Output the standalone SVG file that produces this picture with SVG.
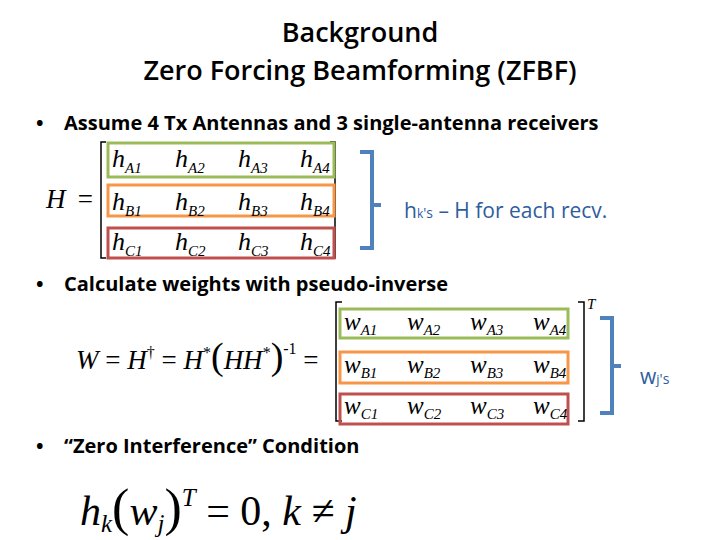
<svg xmlns="http://www.w3.org/2000/svg" width="720" height="540" viewBox="0 0 720 540">
<style>
.t{font-family:"Open Sans","Liberation Sans",sans-serif;fill:#000}
.b{font-family:"Open Sans","Liberation Sans",sans-serif;font-size:20px;font-weight:bold}
.m{font-family:"Liberation Serif",serif;font-style:italic;fill:#000}
.g{fill:none;stroke:#9bbb59;stroke-width:3}
.o{fill:none;stroke:#f79646;stroke-width:3}
.r{fill:none;stroke:#c0504d;stroke-width:3}
.br{fill:none;stroke:#000;stroke-width:1.5}
.bl{fill:none;stroke:#4f81bd;stroke-width:4}
.lb{font-family:"Open Sans","Liberation Sans",sans-serif;fill:#2e5d9e;font-size:21px}
</style>
<rect width="720" height="540" fill="#fff"/>
<g id="title">
<text class="t" x="360" y="42" font-size="27" font-weight="600" text-anchor="middle">Background</text>
<text class="t" x="360" y="80" font-size="27" font-weight="600" text-anchor="middle">Zero Forcing Beamforming (ZFBF)</text>
</g>
<g id="bullets">
<text class="b" x="36" y="130">•</text><text class="b" x="64" y="130">Assume 4 Tx Antennas and 3 single-antenna receivers</text>
<text class="b" x="36" y="291">•</text><text class="b" x="64" y="291">Calculate weights with pseudo-inverse</text>
<text class="b" x="36" y="453">•</text><text class="b" x="64" y="453" font-weight="600">“Zero Interference” Condition</text>
</g>
<g id="matrixH">
<text class="m" x="46" y="208" font-size="27">H</text><text class="m" x="76" y="208" font-size="27" font-style="normal">=</text>
<path class="br" d="M106,142 H101 V258 H106 M330,142 H335 V258 H330"/>
<rect class="g" x="108" y="143" width="226" height="34"/>
<rect class="o" x="108" y="185" width="226" height="31"/>
<rect class="r" x="108" y="228" width="226" height="30"/>
<g class="m" font-size="26">
<text x="112" y="167">h<tspan font-size="15" dy="6">A1</tspan></text>
<text x="175" y="167">h<tspan font-size="15" dy="6">A2</tspan></text>
<text x="238" y="167">h<tspan font-size="15" dy="6">A3</tspan></text>
<text x="300" y="167">h<tspan font-size="15" dy="6">A4</tspan></text>
<text x="112" y="210">h<tspan font-size="15" dy="6">B1</tspan></text>
<text x="175" y="210">h<tspan font-size="15" dy="6">B2</tspan></text>
<text x="238" y="210">h<tspan font-size="15" dy="6">B3</tspan></text>
<text x="300" y="210">h<tspan font-size="15" dy="6">B4</tspan></text>
<text x="112" y="250">h<tspan font-size="15" dy="6">C1</tspan></text>
<text x="175" y="250">h<tspan font-size="15" dy="6">C2</tspan></text>
<text x="238" y="250">h<tspan font-size="15" dy="6">C3</tspan></text>
<text x="300" y="250">h<tspan font-size="15" dy="6">C4</tspan></text>
</g>
</g>
<g id="labelH">
<text class="lb" x="404" y="218">h<tspan font-size="12">k</tspan><tspan font-size="14">'s</tspan> – H for each recv.</text>
</g>
<g id="matrixW">
<text class="m" x="76" y="369" font-size="27">W <tspan font-style="normal">=</tspan> H<tspan font-size="16" dy="-11" font-style="normal">†</tspan><tspan dy="11" font-style="normal"> = </tspan>H<tspan font-size="16" dy="-11" font-style="normal">*</tspan><tspan dy="11" font-size="38" font-style="normal">(</tspan>HH<tspan font-size="16" dy="-11" font-style="normal">*</tspan><tspan dy="11" font-size="38" font-style="normal">)</tspan><tspan font-size="16" dy="-15" font-style="normal">-1</tspan><tspan dy="15" font-style="normal"> =</tspan></text>
<path class="br" d="M342,302 H336 V421 H342 M578,302 H584 V421 H578"/>
<text class="m" x="587" y="309" font-size="15">T</text>
<rect class="g" x="340" y="309" width="228" height="29"/>
<rect class="o" x="340" y="352" width="228" height="31"/>
<rect class="r" x="340" y="394" width="228" height="30"/>
<g class="m" font-size="25">
<text x="344" y="330">w<tspan font-size="15" dy="5">A1</tspan></text>
<text x="407" y="330">w<tspan font-size="15" dy="5">A2</tspan></text>
<text x="470" y="330">w<tspan font-size="15" dy="5">A3</tspan></text>
<text x="533" y="330">w<tspan font-size="15" dy="5">A4</tspan></text>
<text x="344" y="373">w<tspan font-size="15" dy="5">B1</tspan></text>
<text x="407" y="373">w<tspan font-size="15" dy="5">B2</tspan></text>
<text x="470" y="373">w<tspan font-size="15" dy="5">B3</tspan></text>
<text x="533" y="373">w<tspan font-size="15" dy="5">B4</tspan></text>
<text x="344" y="414">w<tspan font-size="15" dy="5">C1</tspan></text>
<text x="407" y="414">w<tspan font-size="15" dy="5">C2</tspan></text>
<text x="470" y="414">w<tspan font-size="15" dy="5">C3</tspan></text>
<text x="533" y="414">w<tspan font-size="15" dy="5">C4</tspan></text>
</g>
</g>
<g id="labelW"><text class="lb" x="640" y="384">w<tspan font-size="13">j</tspan><tspan font-size="14">'s</tspan></text></g>
<g id="connectors">
<path class="bl" d="M360,152 H372 V248 H360 M372,205 H381"/>
<path class="bl" d="M600,318 H612 V413 H600 M612,366 H621"/>
</g>
<g id="condition">
<text class="m" x="80" y="525" font-size="42">h<tspan font-size="25" dy="7">k</tspan><tspan dy="-7" font-style="normal" font-size="52">(</tspan>w<tspan font-size="25" dy="7">j</tspan><tspan dy="-7" font-style="normal" font-size="52">)</tspan><tspan font-size="25" dy="-19">T</tspan><tspan dy="19" font-style="normal"> = 0, </tspan>k <tspan font-style="normal">≠</tspan> j</text>
</g>
</svg>
